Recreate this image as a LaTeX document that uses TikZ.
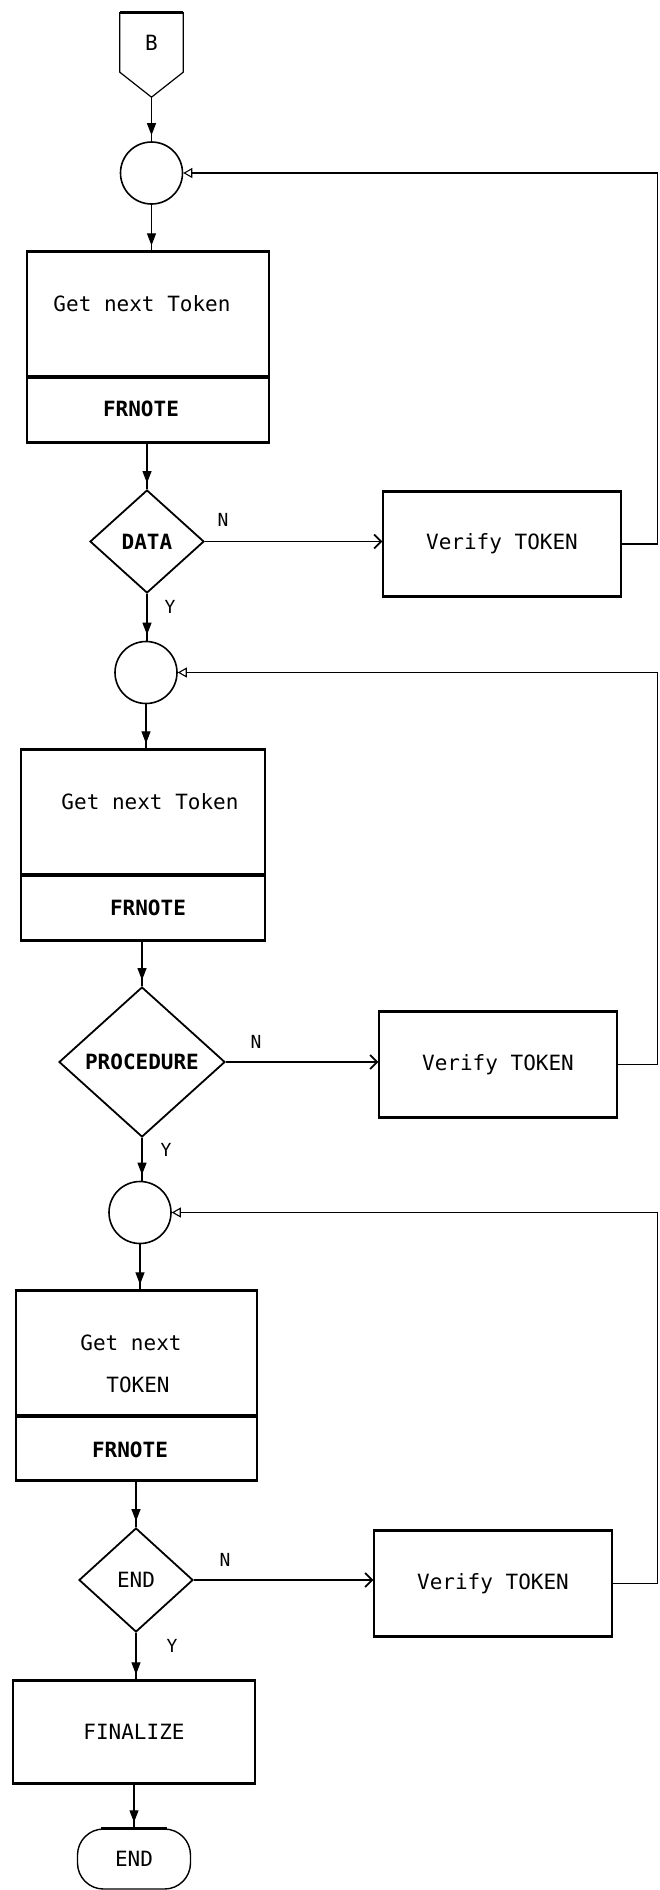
\documentclass[tikz,border=0pt]{standalone}
\usepackage{fontspec}
\setmonofont{DejaVu Sans Mono}
\usetikzlibrary{shapes.geometric,arrows.meta,decorations.markings}
\begin{document}
\begin{tikzpicture}[x=1pt,y=-1pt,
  every node/.style={font=\ttfamily\fontsize{21}{24}\selectfont},
  proc/.style={draw, line width=1.2pt, rectangle, inner sep=0pt},
  hedge/.style={line width=3pt},
  jn/.style={draw, circle, line width=1.6pt, minimum size=62pt, inner sep=0pt},
  dec/.style={draw, diamond, line width=1.8pt, inner sep=0pt},
  lbl/.style={inner sep=0pt},
  yn/.style={inner sep=0pt, font=\ttfamily\fontsize{18}{20}\selectfont},
  flow/.style={line width=1.1pt, postaction=decorate,
    decoration={markings, mark=at position -6pt with {\arrow{Triangle[width=9pt,length=12pt]}}}},
  nflow/.style={line width=1.5pt, -{Straight Barb[length=7pt,width=14pt,line width=1.8pt]}},
  fb/.style={line width=1.5pt, -{Triangle[open,length=9pt,width=10pt,line width=1.1pt]}}
]
\useasboundingbox (0,0) rectangle (659,1890);
\fill[white] (0,0) rectangle (659,1890);
\coordinate (rx) at (657.5,0);

% off-page connector B
\node[lbl, minimum width=63pt, minimum height=84pt] (Bs) at (151.5,55) {};
\draw[line width=1.2pt] ([yshift=25pt]Bs.south west) -- (Bs.north west) -- (Bs.north east) -- ([yshift=25pt]Bs.south east) -- (Bs.south) -- cycle;
\draw[hedge] (Bs.north west) -- (Bs.north east);
\node[lbl] (Bt) at (151.5,43) {B};

% block 1
\node[jn] (c1) at (151.5,173) {};
\node[proc, minimum width=242pt, minimum height=125pt] (b1) at (148,314.5) {};
\node[proc, minimum width=242pt, minimum height=65pt] (f1) at (148,409.5) {};
\node[lbl] (t1) at (142,304) {Get next Token};
\node[lbl] (fr1) at (141,409) {\bfseries FRNOTE};
\node[dec, minimum width=114pt, minimum height=103pt] (d1) at (147,541.5) {\makebox[0pt]{\bfseries DATA}};
\node[proc, minimum width=238pt, minimum height=104pt] (V1) at (502,544) {Verify TOKEN};
\node[yn] (n1) at (223,520) {N};
\node[yn] (y1) at (170,607) {Y};

% block 2
\node[jn] (c2) at (146,672.5) {};
\node[proc, minimum width=244pt, minimum height=125pt] (b2) at (143,812.5) {};
\node[proc, minimum width=244pt, minimum height=65pt] (f2) at (143,907.5) {};
\node[lbl] (t2) at (150,802) {Get next Token};
\node[lbl] (fr2) at (148,908) {\bfseries FRNOTE};
\node[dec, minimum width=166pt, minimum height=150pt] (d2) at (142,1062) {\makebox[0pt]{\bfseries PROCEDURE}};
\node[proc, minimum width=238pt, minimum height=105pt] (V2) at (498,1064.5) {Verify TOKEN};
\node[yn] (n2) at (256,1042) {N};
\node[yn] (y2) at (166,1150) {Y};

% block 3
\node[jn] (c3) at (140,1212.5) {};
\node[proc, minimum width=241pt, minimum height=125pt] (b3) at (136.5,1353.5) {};
\node[proc, minimum width=241pt, minimum height=64pt] (f3) at (136.5,1448) {};
\node[lbl] (t3a) at (131,1343) {Get next};
\node[lbl] (t3b) at (138,1385) {TOKEN};
\node[lbl] (fr3) at (130,1450) {\bfseries FRNOTE};
\node[dec, minimum width=114pt, minimum height=104pt] (d3) at (136,1580) {\makebox[0pt]{END}};
\node[proc, minimum width=238pt, minimum height=105pt] (V3) at (493,1583.5) {Verify TOKEN};
\node[yn] (n3) at (225,1560) {N};
\node[yn] (y3) at (172,1646) {Y};

% final
\node[proc, minimum width=242pt, minimum height=102pt] (fin) at (134,1732) {FINALIZE};
\node[draw, line width=1.4pt, rounded corners=26pt, minimum width=113pt, minimum height=60pt, inner sep=0pt] (term) at (134,1859) {END};
\draw[hedge] ([xshift=24pt]term.north west) -- ([xshift=-24pt]term.north east);

% thick horizontal edges
\foreach \n in {b1,f1,b2,f2,b3,f3,V1,V2,V3,fin} {
  \draw[hedge] (\n.north west) -- (\n.north east);
  \draw[hedge] (\n.south west) -- (\n.south east);
}

% vertical flow
\draw[flow] (Bs.south) -- (c1.north);
\draw[flow] (c1.south) -- (c1.south |- b1.north);
\draw[flow] (f1.south -| d1.north) -- (d1.north);
\draw[flow] (d1.south) -- (d1.south |- c2.north);
\draw[flow] (c2.south) -- (c2.south |- b2.north);
\draw[flow] (f2.south -| d2.north) -- (d2.north);
\draw[flow] (d2.south) -- (d2.south |- c3.north);
\draw[flow] (c3.south) -- (c3.south |- b3.north);
\draw[flow] (f3.south -| d3.north) -- (d3.north);
\draw[flow] (d3.south) -- (d3.south |- fin.north);
\draw[flow] (fin.south -| term.north) -- (term.north);

% N branches
\draw[nflow] (d1.east) -- (d1.east -| V1.west);
\draw[nflow] (d2.east) -- (d2.east -| V2.west);
\draw[nflow] (d3.east) -- (d3.east -| V3.west);

% loop-backs
\draw[fb] (V1.east) -- (V1.east -| rx) -- (rx |- c1.east) -- (c1.east);
\draw[fb] (V2.east) -- (V2.east -| rx) -- (rx |- c2.east) -- (c2.east);
\draw[fb] (V3.east) -- (V3.east -| rx) -- (rx |- c3.east) -- (c3.east);
\end{tikzpicture}
\end{document}
